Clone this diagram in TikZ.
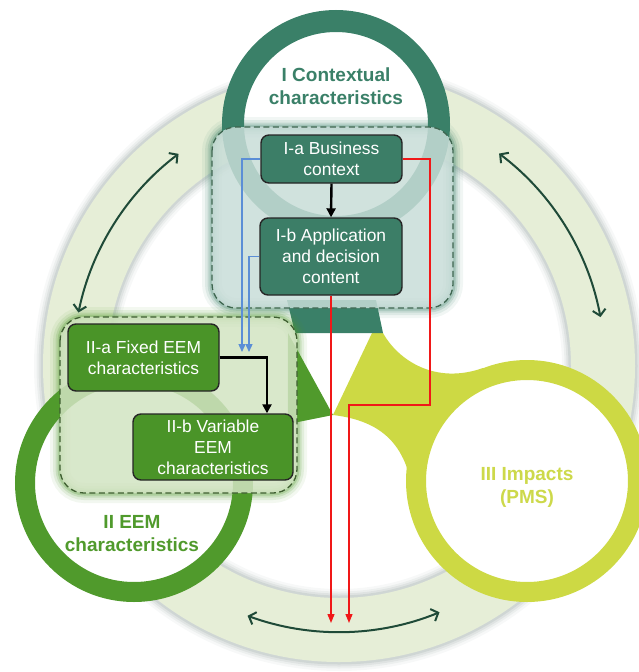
\documentclass[tikz,border=0pt]{standalone}
\usepackage{fontspec}
\setmainfont{Liberation Sans}
\usetikzlibrary{arrows.meta,calc}
\definecolor{ringc}{HTML}{E6EED7}
\definecolor{teal1}{HTML}{3A8068}
\definecolor{green1}{HTML}{509A2C}
\definecolor{yel1}{HTML}{CDD944}
\definecolor{yeltxt}{HTML}{CDD94A}
\definecolor{boxIc}{HTML}{C8DDD8}
\definecolor{boxIIc}{HTML}{D2E4C2}
\definecolor{nodeIc}{HTML}{3C7E67}
\definecolor{nodeIIc}{HTML}{4A9428}
\definecolor{darkarr}{HTML}{1F4A38}
\definecolor{blueline}{HTML}{5B8ED6}
\definecolor{redline}{HTML}{F01818}
\definecolor{shadowc}{HTML}{7F908C}
\definecolor{dashI}{HTML}{3E6650}
\definecolor{dashII}{HTML}{3E5E30}
\begin{document}
\begin{tikzpicture}[x=1pt,y=-1pt,
  inbox/.style={draw=black!85, line width=1.4pt, rounded corners=8pt, text=white, align=center, inner sep=0pt,
     font=\fontsize{17.4}{20.8}\selectfont},
  boxI/.style={inbox, fill=nodeIc},
  boxII/.style={inbox, fill=nodeIIc},
  lbl/.style={align=center, font=\fontsize{19}{23}\selectfont\bfseries, inner sep=0pt},
  blk/.style={draw=black, line width=2.4pt, -{Triangle[length=9pt,width=9pt]}},
  redl/.style={draw=redline, line width=1.3pt, -{Triangle[length=9pt,width=7pt]}},
  bluel/.style={draw=blueline, line width=1.3pt, -{Triangle[length=8pt,width=7pt]}},
  darr/.style={draw=darkarr, line width=2pt, {Straight Barb[length=6pt,width=13pt]}-{Straight Barb[length=6pt,width=13pt]}},
  grp/.style={line width=1.3pt, dash pattern=on 6pt off 3.5pt, rounded corners=24pt, fill opacity=0.85}
]
\useasboundingbox (0,0) rectangle (638,672);
\coordinate (C) at (339,366);
% big ring with soft shadow
\foreach \w/\o in {18/0.06,13/0.09,9/0.12,5/0.16} {
  \draw[shadowc, line width=\w pt, opacity=\o] (C) circle[radius=296];
  \draw[shadowc, line width=\w pt, opacity=\o] (C) circle[radius=232];
}
\fill[ringc, even odd rule] (C) circle[radius=296] (C) circle[radius=232];

% circle I
\draw[teal1, line width=22pt, fill=white] (336,124) circle[radius=103];
% circle III with tail
\fill[yel1] (333,415) -- (372,333) -- (383,333) .. controls (398,360) and (435,385) .. (483,368)
   -- (527,481) -- (415,515) .. controls (412,455) and (392,422) .. (333,415) -- cycle;
\draw[yel1, line width=20pt, fill=white] (527,481) circle[radius=111];
% circle II
\draw[green1, line width=20pt, fill=white] (134,483) circle[radius=109];
% tails of I and II
\fill[teal1] (287,300) -- (376,300) -- (383,333) -- (295,333) -- cycle;
\fill[green1] (288,333) -- (333,415) -- (288,424) -- cycle;

% circle labels
\node[lbl, text=teal1] (LI) at (336,86) {I Contextual\\characteristics};
\node[lbl, text=green1] (LII) at (132,534) {II EEM\\characteristics};
\node[lbl, text=yeltxt] (LIII) at (527,487) {III Impacts\\(PMS)};

% group box I
\foreach \w/\o in {20/0.07,14/0.11,9/0.16,5/0.24} {
  \draw[teal1, line width=\w pt, opacity=\o, rounded corners=24pt] (212,127) rectangle (453,308);
}
\draw[grp, draw=dashI, fill=boxIc] (212,127) rectangle (453,308);
% group box II
\foreach \w/\o in {20/0.07,14/0.11,9/0.16,5/0.24} {
  \draw[green1, line width=\w pt, opacity=\o, rounded corners=24pt] (60,317) rectangle (297,493);
}
\draw[grp, draw=dashII, fill=boxIIc] (60,317) rectangle (297,493);

% inner nodes
\node[boxI, minimum width=141pt, minimum height=48pt] (Ia) at (331.5,159) {I-a Business\\context};
\node[boxI, minimum width=142pt, minimum height=77pt] (Ib) at (331,256.5) {I-b Application\\and decision\\content};
\node[boxII, minimum width=151pt, minimum height=67pt] (IIa) at (143.5,357.5) {II-a Fixed EEM\\characteristics};
\node[boxII, minimum width=160pt, minimum height=66pt] (IIb) at (213,447) {II-b Variable\\EEM\\characteristics};

% black arrows
\draw[blk] (Ia.south) -- (Ib.north);
\draw[blk] (IIa.east) -| ([xshift=54pt]IIb.north);

% blue arrows
\coordinate (b1end) at (242,352);
\coordinate (b2end) at (249,352);
\draw[bluel] (Ia.west) -| (b1end);
\draw[bluel] (Ib.west) -| (b2end);

% red arrows
\coordinate (r1end) at (349,623);
\coordinate (r2end) at (Ib.south |- 0,623);
\draw[redl] (Ia.east) -- (430,159) -- (430,405) -- (349,405) -- (r1end);
\draw[redl] (Ib.south) -- (r2end);

% curved double arrows in the ring
\coordinate (aL) at ($(C)+(-168.4:266)$);
\coordinate (aR) at ($(C)+(-53:266)$);
\coordinate (aB) at ($(C)+(110.1:266)$);
\draw[darr] (aL) arc[start angle=-168.4, end angle=-127.1, radius=266];
\draw[darr] (aR) arc[start angle=-53, end angle=-10.6, radius=266];
\draw[darr] (aB) arc[start angle=110.1, end angle=67.8, radius=266];
\end{tikzpicture}
\end{document}
